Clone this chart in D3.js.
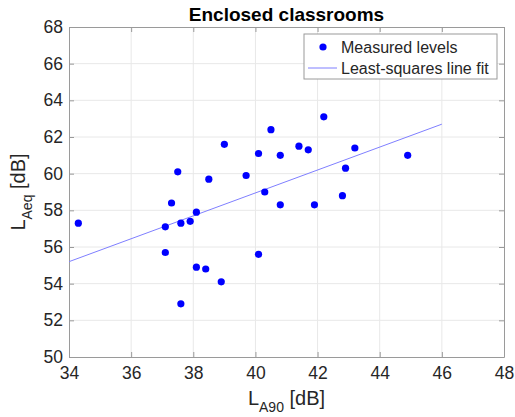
<!DOCTYPE html>
<html>
<head>
<meta charset="utf-8">
<script src="https://cdn.jsdelivr.net/npm/d3@7"></script>
<style>
  body { margin: 0; background: #fff; }
  svg { display: block; font-family: 'Liberation Sans', Arial, Helvetica, sans-serif; }
</style>
</head>
<body>
<div id="chart"></div>
<script>
// measured levels
const LA90 = [34.3, 37.1, 37.1, 37.3, 37.5, 37.6, 37.6, 37.9, 38.1, 38.1, 38.4, 38.5, 38.9, 39.0, 39.7,
  40.1, 40.1, 40.3, 40.5, 40.8, 40.8, 41.4, 41.7, 41.9, 42.2, 42.8, 42.9, 43.2, 44.9];
const LAEQ = [57.3, 57.1, 55.7, 58.4, 60.1, 57.3, 52.9, 57.4, 57.9, 54.9, 54.8, 59.7, 54.1, 61.6, 59.9,
  61.1, 55.6, 59.0, 62.4, 61.0, 58.3, 61.5, 61.3, 58.3, 63.1, 58.8, 60.3, 61.4, 61.0];

// line fit endpoints
const FIT_X = [34, 46];
const FIT_Y = [55.2, 62.7];

const X_TICKS = [34, 36, 38, 40, 42, 44, 46, 48];
const Y_TICKS = [50, 52, 54, 56, 58, 60, 62, 64, 66, 68];

const WIDTH = 515;
const HEIGHT = 417;
const margin = {top: 27, right: 11, bottom: 60, left: 69};
const w = WIDTH - margin.left - margin.right;
const h = HEIGHT - margin.top - margin.bottom;

const AXIS_COL = '#9a9a9a';
const GRID_COL = '#e8e8e8';
const BLUE = '#0000ff';

function translate(x, y) {
  return `translate(${x}, ${y})`;
}

const svg = d3.select('#chart').append('svg')
  .attr('width', WIDTH)
  .attr('height', HEIGHT);

const g = svg.append('g').attr('transform', translate(margin.left, margin.top));

const x = d3.scaleLinear().domain([34, 48]).range([0, w]);
const y = d3.scaleLinear().domain([50, 68]).range([h, 0]);

// grid
g.append('g').selectAll('line').data(X_TICKS.slice(1, -1)).join('line')
  .attr('x1', d => x(d)).attr('x2', d => x(d))
  .attr('y1', 0).attr('y2', h)
  .attr('stroke', GRID_COL).attr('stroke-width', 1);
g.append('g').selectAll('line').data(Y_TICKS.slice(1, -1)).join('line')
  .attr('y1', d => y(d)).attr('y2', d => y(d))
  .attr('x1', 0).attr('x2', w)
  .attr('stroke', GRID_COL).attr('stroke-width', 1);

// axes, ticks pointing inward
function styleAxis(sel) {
  sel.select('.domain').attr('stroke', AXIS_COL);
  sel.selectAll('.tick line').attr('stroke', AXIS_COL);
  sel.selectAll('.tick text')
    .attr('fill', '#262626')
    .attr('font-size', '17.5px')
    .attr('font-family', null);
}

const xAxis = g.append('g')
  .attr('transform', translate(0, h))
  .call(d3.axisBottom(x).tickValues(X_TICKS).tickSize(-5).tickPadding(10).tickSizeOuter(0));
styleAxis(xAxis);
xAxis.selectAll('.tick text').attr('dy', '0.71em');

const yAxis = g.append('g')
  .call(d3.axisLeft(y).tickValues(Y_TICKS).tickSize(-5).tickPadding(6).tickSizeOuter(0));
styleAxis(yAxis);

const xTop = g.append('g')
  .call(d3.axisTop(x).tickValues(X_TICKS).tickSize(-5).tickFormat('').tickSizeOuter(0));
styleAxis(xTop);

const yRight = g.append('g')
  .attr('transform', translate(w, 0))
  .call(d3.axisRight(y).tickValues(Y_TICKS).tickSize(-5).tickFormat('').tickSizeOuter(0));
styleAxis(yRight);

// fit line
const line = d3.line()
  .x(d => x(d[0]))
  .y(d => y(d[1]));

g.append('path')
  .datum(FIT_X.map((v, i) => [v, FIT_Y[i]]))
  .attr('fill', 'none')
  .attr('stroke', '#7f7fff')
  .attr('stroke-width', 1)
  .attr('d', line);

// points
g.append('g').selectAll('circle')
  .data(LA90.map((v, i) => [v, LAEQ[i]]))
  .join('circle')
  .attr('cx', d => x(d[0]))
  .attr('cy', d => y(d[1]))
  .attr('r', 3.6)
  .attr('fill', BLUE);

// title
svg.append('text')
  .attr('x', margin.left + w / 2)
  .attr('y', 21)
  .attr('text-anchor', 'middle')
  .attr('font-size', '19px')
  .attr('font-weight', 'bold')
  .attr('fill', '#000')
  .text('Enclosed classrooms');

// x label
const xl = svg.append('text')
  .attr('x', margin.left + w / 2)
  .attr('y', 405)
  .attr('text-anchor', 'middle')
  .attr('font-size', '20px')
  .attr('fill', '#262626');
xl.append('tspan').text('L');
xl.append('tspan').attr('font-size', '14px').attr('dy', 7).text('A90');
xl.append('tspan').attr('dy', -7).text(' [dB]');

// y label
const yl = svg.append('text')
  .attr('transform', `translate(25, ${margin.top + h / 2}) rotate(-90)`)
  .attr('text-anchor', 'middle')
  .attr('font-size', '20px')
  .attr('fill', '#262626');
yl.append('tspan').text('L');
yl.append('tspan').attr('font-size', '14px').attr('dy', 7).text('Aeq');
yl.append('tspan').attr('dy', -7).text(' [dB]');

// legend
const legend = svg.append('g').attr('transform', translate(304, 34));
legend.append('rect')
  .attr('width', 193)
  .attr('height', 45)
  .attr('fill', '#fff')
  .attr('stroke', AXIS_COL)
  .attr('stroke-width', 1);

legend.append('circle')
  .attr('cx', 19).attr('cy', 13).attr('r', 3.6)
  .attr('fill', BLUE);
legend.append('text')
  .attr('x', 37).attr('y', 13).attr('dy', '0.35em')
  .attr('font-size', '16px').attr('fill', '#262626')
  .text('Measured levels');

legend.append('line')
  .attr('x1', 4).attr('x2', 33)
  .attr('y1', 34).attr('y2', 34)
  .attr('stroke', '#7f7fff').attr('stroke-width', 1);
legend.append('text')
  .attr('x', 37).attr('y', 34).attr('dy', '0.35em')
  .attr('font-size', '16px').attr('fill', '#262626')
  .text('Least-squares line fit');
</script>
</body>
</html>
